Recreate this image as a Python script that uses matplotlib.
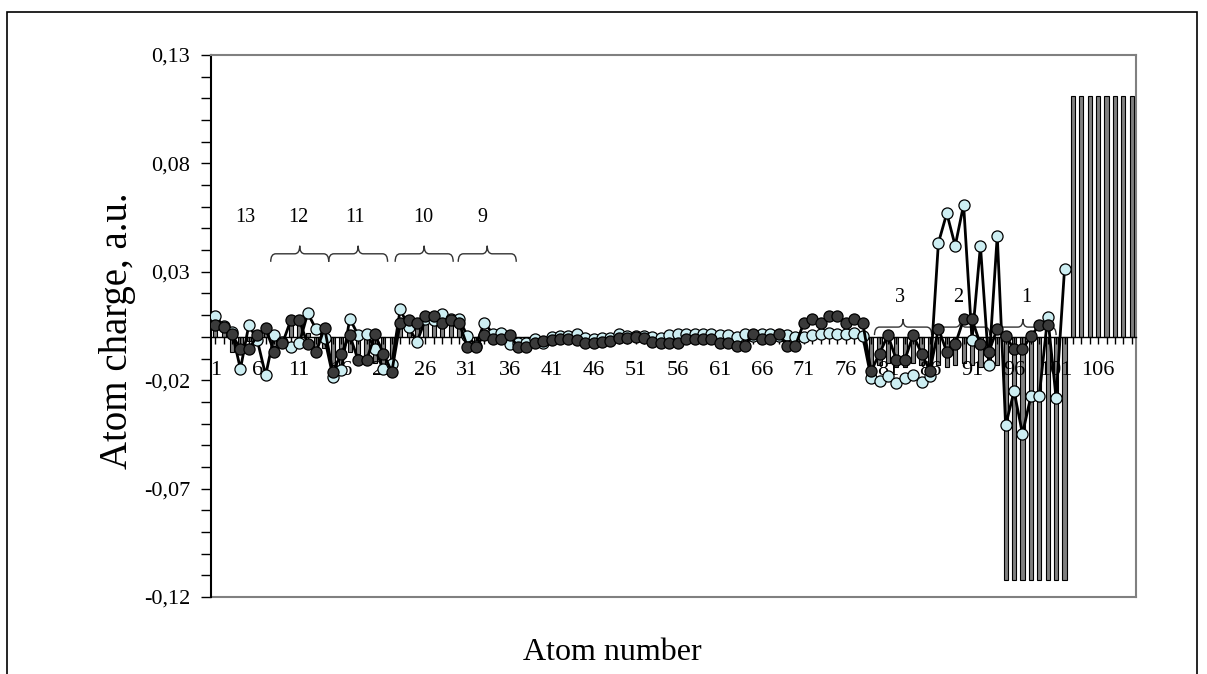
import numpy as np
import matplotlib.pyplot as plt
from matplotlib.path import Path
from matplotlib.patches import PathPatch, Rectangle

plt.rcParams['font.family'] = ['Liberation Serif', 'DejaVu Serif']

atoms = np.arange(1, 111)

bar_charge = [
    0.003, 0.004, -0.007, -0.007, -0.002, -0.002, 0.002, -0.004, -0.004, 0.008,
    0.008, 0.002, -0.005, -0.005, -0.013, -0.013, -0.007, -0.008, -0.012, -0.012,
    -0.013, -0.014, 0.007, 0.007, 0.006, 0.007, 0.007, 0.007, 0.007, 0.006,
    -0.003, -0.003, 0.002, 0.001, 0.001, -0.002, -0.003, -0.003, -0.002, -0.002,
    -0.001, -0.001, -0.001, -0.001, -0.002, -0.002, -0.002, -0.001, 0.001, 0.001,
    0.001, 0.001, -0.001, -0.002, -0.002, -0.002, -0.001, -0.001, -0.001, -0.001,
    -0.002, -0.002, -0.002, -0.002, 0.001, -0.001, -0.001, 0.001, -0.002, -0.002,
    0.001, 0.001, 0.001, 0.001, 0.001, 0.001, 0.001, 0.001, -0.014, -0.013,
    -0.012, -0.014, -0.014, -0.012, -0.013, -0.014, -0.013, -0.014, -0.013, -0.012,
    -0.013, -0.014, -0.014, -0.013, -0.112, -0.112, -0.112, -0.112, -0.112, -0.112,
    -0.112, -0.112, 0.111, 0.111, 0.111, 0.111, 0.111, 0.111, 0.111, 0.111,
]

dark_charge = [
    0.0053, 0.0047, 0.0011, -0.0058, -0.0058, 0.0007, 0.0039, -0.0069, -0.0030, 0.0078,
    0.0078, -0.0035, -0.0071, 0.0042, -0.0161, -0.0077, 0.0008, -0.0108, -0.0108, 0.0011,
    -0.0077, -0.0161, 0.0065, 0.0078, 0.0065, 0.0096, 0.0096, 0.0065, 0.0078, 0.0065,
    -0.0046, -0.0046, 0.0008, -0.0012, -0.0012, 0.0008, -0.0046, -0.0046, -0.0030, -0.0019,
    -0.0016, -0.0012, -0.0012, -0.0016, -0.0027, -0.0027, -0.0022, -0.0019, -0.0004, -0.0004,
    -0.0001, -0.0004, -0.0022, -0.0027, -0.0030, -0.0030, -0.0012, -0.0012, -0.0012, -0.0012,
    -0.0030, -0.0030, -0.0040, -0.0040, 0.0011, -0.0012, -0.0012, 0.0011, -0.0040, -0.0040,
    0.0065, 0.0081, 0.0065, 0.0096, 0.0096, 0.0065, 0.0081, 0.0065, -0.0158, -0.0077,
    0.0008, -0.0107, -0.0107, 0.0008, -0.0077, -0.0158, 0.0038, -0.0070, -0.0035, 0.0081,
    0.0081, -0.0035, -0.0070, 0.0038, 0.0004, -0.0058, -0.0058, 0.0004, 0.0053, 0.0053,
]

light_charge = [
    0.0096, 0.0050, 0.0022, -0.0148, 0.0055, -0.0015, -0.0177, 0.0007, -0.0024, -0.0046,
    -0.0030, 0.0109, 0.0035, -0.0004, -0.0183, -0.0151, 0.0084, 0.0008, 0.0015, -0.0055,
    -0.0150, -0.0125, 0.0127, 0.0045, -0.0023, 0.0081, 0.0078, 0.0104, 0.0080, 0.0081,
    0.0004, -0.0040, 0.0065, 0.0015, 0.0016, -0.0035, -0.0030, -0.0027, -0.0008, -0.0030,
    -0.0001, 0.0004, 0.0004, 0.0011, -0.0004, -0.0012, -0.0004, -0.0004, 0.0015, 0.0004,
    0.0004, 0.0004, -0.0001, -0.0004, 0.0008, 0.0011, 0.0011, 0.0011, 0.0011, 0.0011,
    0.0007, 0.0007, -0.0001, 0.0011, 0.0005, 0.0014, 0.0011, 0.0005, 0.0008, -0.0001,
    0.0001, 0.0007, 0.0011, 0.0016, 0.0011, 0.0011, 0.0016, 0.0004, -0.0190, -0.0205,
    -0.0181, -0.0212, -0.0190, -0.0178, -0.0209, -0.0181, 0.0433, 0.0570, 0.0420, 0.0609,
    -0.0016, 0.0420, -0.0132, 0.0467, -0.0408, -0.0251, -0.0447, -0.0274, -0.0271, 0.0093,
    -0.0282, 0.0312,
]

y_ticks = [-0.12, -0.07, -0.02, 0.03, 0.08, 0.13]

# fragment labels and their braces (atom ranges)
group_labels = ["13", "12", "11", "10", "9", "3", "2", "1"]
group_label_x = [4.6, 10.85, 17.6, 25.7, 32.8, 82.4, 89.4, 97.4]
group_label_y = [0.055, 0.055, 0.055, 0.055, 0.055, 0.018, 0.018, 0.018]
brace_spans = [(7.6, 14.5), (14.5, 21.5), (22.4, 29.3), (29.9, 36.8),
               (79.4, 86.2), (86.2, 93.1), (93.1, 101.0)]
brace_y = [0.0383, 0.0383, 0.0383, 0.0383, 0.0045, 0.0045, 0.0045]


def draw_brace(ax, x0, x1, y, dy=0.0037, r=0.6):
    xm = (x0 + x1) / 2
    verts = [(x0, y - dy), (x0, y), (x0 + r, y),
             (xm - r, y), (xm, y), (xm, y + dy),
             (xm, y), (xm + r, y),
             (x1 - r, y), (x1, y), (x1, y - dy)]
    codes = [Path.MOVETO, Path.CURVE3, Path.CURVE3,
             Path.LINETO, Path.CURVE3, Path.CURVE3,
             Path.CURVE3, Path.CURVE3,
             Path.LINETO, Path.CURVE3, Path.CURVE3]
    ax.add_patch(PathPatch(Path(verts, codes), fill=False, edgecolor='#333333', lw=1.0, zorder=2))


fig = plt.figure(figsize=(12.07, 6.74), dpi=100)
ax = fig.add_axes([211 / 1207, 77 / 674, 925 / 1207, 542 / 674])

# x axis crosses at zero, plot-area frame in grey
ax.spines['bottom'].set_position(('data', 0))
ax.spines['bottom'].set_color('black')
ax.spines['bottom'].set_linewidth(1.0)
ax.spines['left'].set_linewidth(1.5)
for side in ['top', 'right']:
    ax.spines[side].set_color('#808080')
    ax.spines[side].set_linewidth(1.5)
ax.plot([0, 1], [0, 0], transform=ax.transAxes, color='#808080', lw=1.5, clip_on=False)

ax.bar(atoms, bar_charge, width=0.5, color='#808080', edgecolor='black', lw=0.8, zorder=1)
ax.plot(atoms[:len(light_charge)], light_charge, color='black', lw=2, marker='o', ms=8,
        mfc='#cdeef2', mec='black', mew=0.9, zorder=3)
ax.plot(atoms[:len(dark_charge)], dark_charge, color='black', lw=2, marker='o', ms=8,
        mfc='#3a3a3a', mec='black', mew=0.9, zorder=4)

for (x0, x1), yb in zip(brace_spans, brace_y):
    draw_brace(ax, x0, x1, yb)
for lab, x, y in zip(group_labels, group_label_x, group_label_y):
    ax.text(x, y, lab, ha='center', va='center', fontsize=14.5)

ax.set_xlim(0.5, 110.5)
ax.set_ylim(-0.12, 0.13)

ax.set_xticks(atoms)
ax.set_xticklabels([str(n) if n % 5 == 1 else "" for n in atoms])
ax.set_yticks(y_ticks)
ax.set_yticklabels([f"{v:.2f}".replace('.', ',') for v in y_ticks])
ax.set_yticks(np.arange(-0.12, 0.1301, 0.01), minor=True)
ax.tick_params(axis='x', direction='out', length=5, width=1, pad=12.5, labelsize=16)
ax.tick_params(axis='y', which='both', direction='out', length=7, width=1, pad=8, labelsize=16)

fig.text(117 / 1207, 1 - 331 / 674, "Atom charge, a.u.", rotation=90, ha='center', va='center', fontsize=28)
fig.text(612 / 1207, 1 - 660 / 674, "Atom number", ha='center', va='baseline', fontsize=23)

fig.patches.append(Rectangle((7 / 1207, -0.1), 1190 / 1207, 1.1 - 12 / 674, fill=False,
                             edgecolor='black', lw=1.2, transform=fig.transFigure))

fig.savefig("out.png", dpi=100)
